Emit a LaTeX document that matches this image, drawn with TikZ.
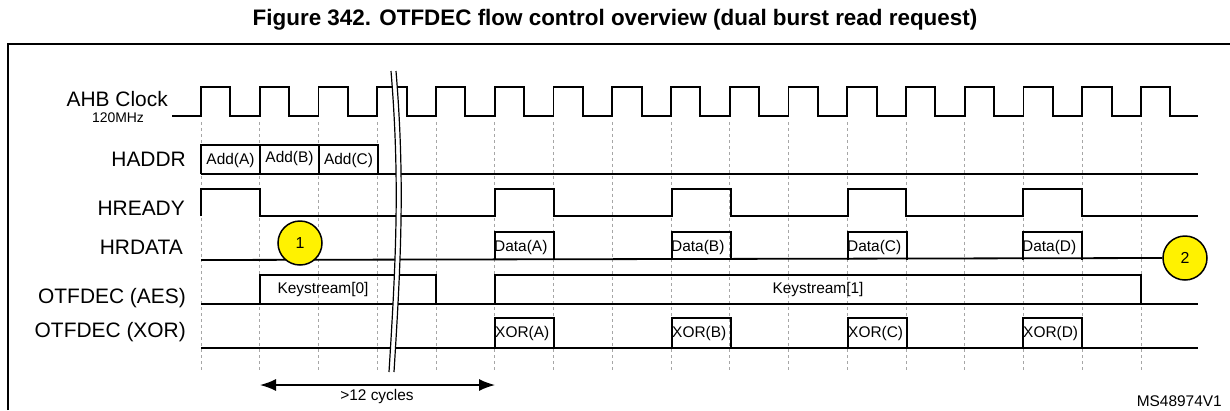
\documentclass[tikz,border=0pt]{standalone}
\usepackage{fontspec}
\setmainfont{Liberation Sans}
\usetikzlibrary{arrows.meta}
\begin{document}
\begin{tikzpicture}[x=1bp,y=-1bp,
  sig/.style={line width=1.8bp},
  grid/.style={gray!70,dashed,line width=0.7bp},
  lab/.style={anchor=east,font=\fontsize{21}{24}\selectfont,inner sep=0},
  btxt/.style={font=\fontsize{15.5}{18}\selectfont,inner sep=1bp},
  circ/.style={circle,draw,line width=1.5bp,fill=yellow,minimum size=44bp,inner sep=0,font=\fontsize{16}{18}\selectfont}]
\useasboundingbox (0,0) rectangle (1230,410);
\node[font=\bfseries\fontsize{22.5}{26}\selectfont] (title) at (615,20) {Figure 342. OTFDEC flow control overview (dual burst read request)};
\draw[line width=1.3bp] (8,410) -- (8,44) -- (1232,44);
\def\P{58.75}
% grid lines
\foreach \k in {0,...,16} \draw[grid] ({201+\k*\P},122) -- ({201+\k*\P},372);
% clock
\draw[sig] (172,116) \foreach \k in {0,...,16} { -- ({201+\k*\P},116) -- ({201+\k*\P},87) -- ({201+\k*\P+\P/2},87) -- ({201+\k*\P+\P/2},116)} -- (1198,116);
% labels
\node[lab] (lclk) at (168,99) {AHB Clock};
\node[font=\fontsize{14}{16}\selectfont,inner sep=0] (lmhz) at (118,118) {120MHz};
\node[lab] (lhaddr) at (186,159) {HADDR};
\node[lab] (lhready) at (185,208) {HREADY};
\node[lab] (lhrdata) at (183,247) {HRDATA};
\node[lab] (laes) at (186,298) {OTFDEC (AES)};
\node[lab] (lxor) at (186,332) {OTFDEC (XOR)};
% HADDR
\draw[sig] (201,174) -- (1198,174);
\draw[sig] (201,174) -- (201,145) -- (378,145) -- (378,174);
\draw[sig] (260,145) -- (260,174) (319,145) -- (319,174);
\node[btxt] (a1) at (230.5,160) {Add(A)};
\node[btxt] (a2) at (289.5,158) {Add(B)};
\node[btxt] (a3) at (348.5,160) {Add(C)};
% HREADY
\draw[sig] (201,216) -- (201,189) -- (260,189) -- (260,216) -- (495,216) -- (495,189) -- (554,189) -- (554,216)
  -- (672,216) -- (672,189) -- (731,189) -- (731,216) -- (848,216) -- (848,189) -- (906,189) -- (906,216)
  -- (1023,216) -- (1023,189) -- (1082,189) -- (1082,216) -- (1198,216);
% HRDATA
\node[circ] (c2) at (1185,258) {2};
\draw[sig] (201,260) -- (c2.west);
\foreach \x/\t in {495/A,672/B,848/C,1023/D} {
  \draw[sig] (\x,260) -- (\x,232) -- (\x+59,232) -- (\x+59,260);
  \node[btxt,anchor=west,inner sep=0] (d\t) at (\x-1,247) {Data(\t)};
  \draw[sig] (\x,348) -- (\x,318) -- (\x+59,318) -- (\x+59,348);
  \node[btxt,anchor=west,inner sep=0] (x\t) at (\x,333) {XOR(\t)};
}
% AES
\draw[sig] (201,304) -- (1198,304);
\draw[sig] (260,304) -- (260,275) -- (436,275) -- (436,304);
\draw[sig] (495,304) -- (495,275) -- (1141,275) -- (1141,304);
\node[btxt] (k0) at (323,289) {Keystream[0]};
\node[btxt] (k1) at (818,289) {Keystream[1]};
% XOR line
\draw[sig] (201,348) -- (1198,348);
\node[circ] (c1) at (300,243) {1};
% break
\fill[white] (391,71) .. controls (400,180) and (396,260) .. (389,372) -- (394,372) .. controls (401,260) and (405,180) .. (396,71) -- cycle;
\draw[line width=1.2bp] (391,71) .. controls (400,180) and (396,260) .. (389,372);
\draw[line width=1.2bp] (396,71) .. controls (405,180) and (401,260) .. (394,372);
% arrow
\coordinate (ar1) at (260,385);
\coordinate (ar2) at (495,385);
\draw[line width=1.5bp,{Latex[length=16bp,width=12bp]}-{Latex[length=16bp,width=12bp]}] (ar1) -- (ar2);
\node[btxt] (cyc) at (377,396) {>12 cycles};
\node[anchor=east,font=\fontsize{15.5}{18}\selectfont,inner sep=0] (ms) at (1222,401) {MS48974V1};
\end{tikzpicture}
\end{document}
